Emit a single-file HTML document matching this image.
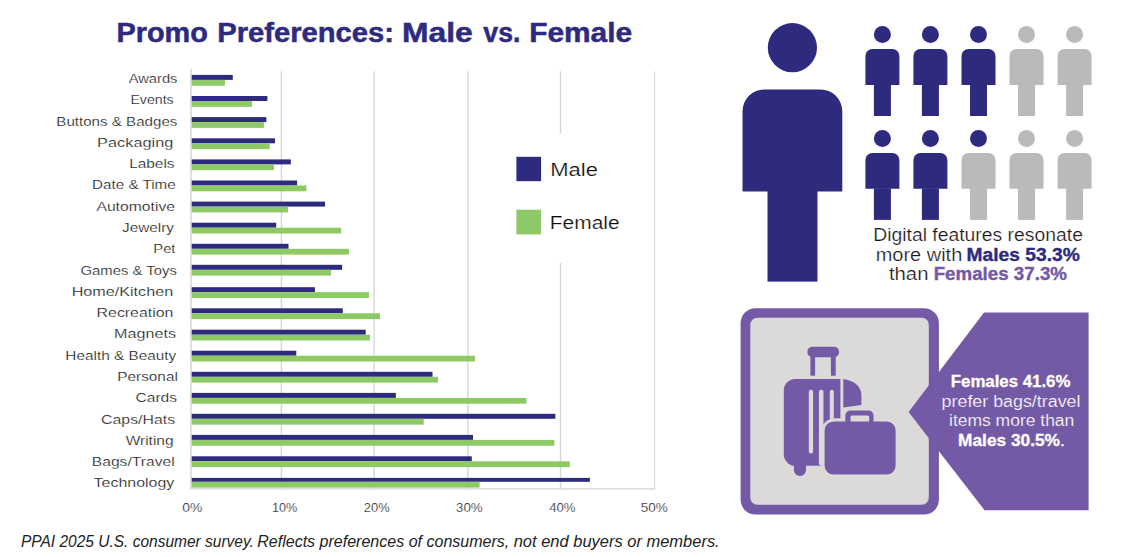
<!DOCTYPE html><html><head><meta charset="utf-8"><title>Promo Preferences</title>
<style>html,body{margin:0;padding:0;background:#fff;}svg{display:block;font-family:"Liberation Sans",sans-serif;}</style></head><body>
<svg width="1141" height="557" viewBox="0 0 1141 557">
<rect width="1141" height="557" fill="#fff"/>
<text x="116.48" y="41.7" font-size="27.5" font-weight="bold" font-style="normal" fill="#2e2b7f" stroke="#2e2b7f" stroke-width="0.5" textLength="91.46" lengthAdjust="spacingAndGlyphs" font-family="Liberation Sans, sans-serif">Promo</text>
<text x="217.34" y="41.7" font-size="27.5" font-weight="bold" font-style="normal" fill="#2e2b7f" stroke="#2e2b7f" stroke-width="0.5" textLength="176.64" lengthAdjust="spacingAndGlyphs" font-family="Liberation Sans, sans-serif">Preferences:</text>
<text x="402.02" y="41.7" font-size="27.5" font-weight="bold" font-style="normal" fill="#2e2b7f" stroke="#2e2b7f" stroke-width="0.5" textLength="70.75" lengthAdjust="spacingAndGlyphs" font-family="Liberation Sans, sans-serif">Male</text>
<text x="483.34" y="41.7" font-size="27.5" font-weight="bold" font-style="normal" fill="#2e2b7f" stroke="#2e2b7f" stroke-width="0.5" textLength="37.11" lengthAdjust="spacingAndGlyphs" font-family="Liberation Sans, sans-serif">vs.</text>
<text x="529.18" y="41.7" font-size="27.5" font-weight="bold" font-style="normal" fill="#2e2b7f" stroke="#2e2b7f" stroke-width="0.5" textLength="103.01" lengthAdjust="spacingAndGlyphs" font-family="Liberation Sans, sans-serif">Female</text>
<rect x="280.7" y="71.3" width="1.4" height="418.4" fill="#d6d6d6"/>
<rect x="373.4" y="71.3" width="1.4" height="418.4" fill="#d6d6d6"/>
<rect x="467.1" y="71.3" width="1.4" height="418.4" fill="#d6d6d6"/>
<rect x="559.8" y="71.3" width="1.4" height="418.4" fill="#d6d6d6"/>
<rect x="653.8" y="71.3" width="1.4" height="418.4" fill="#dedede"/>
<rect x="500" y="133.5" width="140" height="129.3" fill="#fff"/>
<rect x="190.2" y="68.8" width="1.5" height="420.9" fill="#d6d6d6"/>
<rect x="190.2" y="488.0" width="465" height="1.7" fill="#dedede"/>
<rect x="191.7" y="74.9" width="41.1" height="5.0" fill="#2e2b7f"/>
<rect x="191.7" y="79.9" width="33.3" height="5.8" fill="#8dc964"/>
<text x="128.69" y="82.9" font-size="12.6" font-weight="normal" font-style="normal" fill="#111" stroke="#fff" stroke-width="0.22" textLength="48.76" lengthAdjust="spacingAndGlyphs" font-family="Liberation Sans, sans-serif">Awards</text>
<rect x="191.7" y="96.0" width="75.7" height="5.0" fill="#2e2b7f"/>
<rect x="191.7" y="101.0" width="60.2" height="5.8" fill="#8dc964"/>
<text x="130.45" y="104.2" font-size="12.6" font-weight="normal" font-style="normal" fill="#111" stroke="#fff" stroke-width="0.22" textLength="43.26" lengthAdjust="spacingAndGlyphs" font-family="Liberation Sans, sans-serif">Events</text>
<rect x="191.7" y="117.1" width="74.7" height="5.0" fill="#2e2b7f"/>
<rect x="191.7" y="122.1" width="72.2" height="5.8" fill="#8dc964"/>
<text x="56.30" y="125.5" font-size="12.6" font-weight="normal" font-style="normal" fill="#111" stroke="#fff" stroke-width="0.22" textLength="121.13" lengthAdjust="spacingAndGlyphs" font-family="Liberation Sans, sans-serif">Buttons &amp; Badges</text>
<rect x="191.7" y="138.3" width="83.3" height="5.0" fill="#2e2b7f"/>
<rect x="191.7" y="143.3" width="78.0" height="5.8" fill="#8dc964"/>
<text x="97.10" y="146.8" font-size="12.6" font-weight="normal" font-style="normal" fill="#111" stroke="#fff" stroke-width="0.22" textLength="76.30" lengthAdjust="spacingAndGlyphs" font-family="Liberation Sans, sans-serif">Packaging</text>
<rect x="191.7" y="159.4" width="99.1" height="5.0" fill="#2e2b7f"/>
<rect x="191.7" y="164.4" width="82.3" height="5.8" fill="#8dc964"/>
<text x="129.18" y="168.1" font-size="12.6" font-weight="normal" font-style="normal" fill="#111" stroke="#fff" stroke-width="0.22" textLength="45.41" lengthAdjust="spacingAndGlyphs" font-family="Liberation Sans, sans-serif">Labels</text>
<rect x="191.7" y="180.5" width="105.4" height="5.0" fill="#2e2b7f"/>
<rect x="191.7" y="185.5" width="114.7" height="5.8" fill="#8dc964"/>
<text x="92.08" y="189.3" font-size="12.6" font-weight="normal" font-style="normal" fill="#111" stroke="#fff" stroke-width="0.22" textLength="83.60" lengthAdjust="spacingAndGlyphs" font-family="Liberation Sans, sans-serif">Date &amp; Time</text>
<rect x="191.7" y="201.6" width="133.3" height="5.0" fill="#2e2b7f"/>
<rect x="191.7" y="206.6" width="96.3" height="5.8" fill="#8dc964"/>
<text x="96.42" y="210.6" font-size="12.6" font-weight="normal" font-style="normal" fill="#111" stroke="#fff" stroke-width="0.22" textLength="78.61" lengthAdjust="spacingAndGlyphs" font-family="Liberation Sans, sans-serif">Automotive</text>
<rect x="191.7" y="222.7" width="84.5" height="5.0" fill="#2e2b7f"/>
<rect x="191.7" y="227.7" width="149.4" height="5.8" fill="#8dc964"/>
<text x="122.10" y="231.9" font-size="12.6" font-weight="normal" font-style="normal" fill="#111" stroke="#fff" stroke-width="0.22" textLength="51.92" lengthAdjust="spacingAndGlyphs" font-family="Liberation Sans, sans-serif">Jewelry</text>
<rect x="191.7" y="243.8" width="96.8" height="5.0" fill="#2e2b7f"/>
<rect x="191.7" y="248.8" width="157.2" height="5.8" fill="#8dc964"/>
<text x="153.32" y="253.2" font-size="12.6" font-weight="normal" font-style="normal" fill="#111" stroke="#fff" stroke-width="0.22" textLength="22.16" lengthAdjust="spacingAndGlyphs" font-family="Liberation Sans, sans-serif">Pet</text>
<rect x="191.7" y="264.8" width="150.4" height="5.0" fill="#2e2b7f"/>
<rect x="191.7" y="269.8" width="139.3" height="5.8" fill="#8dc964"/>
<text x="80.47" y="274.5" font-size="12.6" font-weight="normal" font-style="normal" fill="#111" stroke="#fff" stroke-width="0.22" textLength="96.35" lengthAdjust="spacingAndGlyphs" font-family="Liberation Sans, sans-serif">Games &amp; Toys</text>
<rect x="191.7" y="287.2" width="123.2" height="5.0" fill="#2e2b7f"/>
<rect x="191.7" y="292.2" width="177.3" height="5.8" fill="#8dc964"/>
<text x="71.66" y="295.8" font-size="12.6" font-weight="normal" font-style="normal" fill="#111" stroke="#fff" stroke-width="0.22" textLength="101.47" lengthAdjust="spacingAndGlyphs" font-family="Liberation Sans, sans-serif">Home/Kitchen</text>
<rect x="191.7" y="308.3" width="151.1" height="5.0" fill="#2e2b7f"/>
<rect x="191.7" y="313.3" width="188.3" height="5.8" fill="#8dc964"/>
<text x="96.61" y="317.1" font-size="12.6" font-weight="normal" font-style="normal" fill="#111" stroke="#fff" stroke-width="0.22" textLength="76.73" lengthAdjust="spacingAndGlyphs" font-family="Liberation Sans, sans-serif">Recreation</text>
<rect x="191.7" y="329.7" width="174.0" height="5.0" fill="#2e2b7f"/>
<rect x="191.7" y="334.7" width="178.3" height="5.8" fill="#8dc964"/>
<text x="114.13" y="338.4" font-size="12.6" font-weight="normal" font-style="normal" fill="#111" stroke="#fff" stroke-width="0.22" textLength="61.86" lengthAdjust="spacingAndGlyphs" font-family="Liberation Sans, sans-serif">Magnets</text>
<rect x="191.7" y="350.7" width="104.6" height="5.0" fill="#2e2b7f"/>
<rect x="191.7" y="355.7" width="283.3" height="5.8" fill="#8dc964"/>
<text x="65.39" y="359.7" font-size="12.6" font-weight="normal" font-style="normal" fill="#111" stroke="#fff" stroke-width="0.22" textLength="110.89" lengthAdjust="spacingAndGlyphs" font-family="Liberation Sans, sans-serif">Health &amp; Beauty</text>
<rect x="191.7" y="371.8" width="240.8" height="5.0" fill="#2e2b7f"/>
<rect x="191.7" y="376.8" width="246.3" height="5.8" fill="#8dc964"/>
<text x="117.35" y="381.0" font-size="12.6" font-weight="normal" font-style="normal" fill="#111" stroke="#fff" stroke-width="0.22" textLength="60.48" lengthAdjust="spacingAndGlyphs" font-family="Liberation Sans, sans-serif">Personal</text>
<rect x="191.7" y="392.9" width="204.2" height="5.0" fill="#2e2b7f"/>
<rect x="191.7" y="397.9" width="334.7" height="5.8" fill="#8dc964"/>
<text x="135.48" y="402.2" font-size="12.6" font-weight="normal" font-style="normal" fill="#111" stroke="#fff" stroke-width="0.22" textLength="41.62" lengthAdjust="spacingAndGlyphs" font-family="Liberation Sans, sans-serif">Cards</text>
<rect x="191.7" y="413.8" width="363.7" height="5.0" fill="#2e2b7f"/>
<rect x="191.7" y="418.8" width="232.0" height="5.8" fill="#8dc964"/>
<text x="101.11" y="423.5" font-size="12.6" font-weight="normal" font-style="normal" fill="#111" stroke="#fff" stroke-width="0.22" textLength="74.00" lengthAdjust="spacingAndGlyphs" font-family="Liberation Sans, sans-serif">Caps/Hats</text>
<rect x="191.7" y="434.9" width="281.3" height="5.0" fill="#2e2b7f"/>
<rect x="191.7" y="439.9" width="362.6" height="5.8" fill="#8dc964"/>
<text x="125.65" y="444.8" font-size="12.6" font-weight="normal" font-style="normal" fill="#111" stroke="#fff" stroke-width="0.22" textLength="47.94" lengthAdjust="spacingAndGlyphs" font-family="Liberation Sans, sans-serif">Writing</text>
<rect x="191.7" y="456.3" width="280.1" height="5.0" fill="#2e2b7f"/>
<rect x="191.7" y="461.3" width="378.1" height="5.8" fill="#8dc964"/>
<text x="91.81" y="466.1" font-size="12.6" font-weight="normal" font-style="normal" fill="#111" stroke="#fff" stroke-width="0.22" textLength="82.85" lengthAdjust="spacingAndGlyphs" font-family="Liberation Sans, sans-serif">Bags/Travel</text>
<rect x="191.7" y="477.9" width="398.2" height="3.9" fill="#2e2b7f"/>
<rect x="191.7" y="481.8" width="287.9" height="5.8" fill="#8dc964"/>
<text x="93.62" y="487.4" font-size="12.6" font-weight="normal" font-style="normal" fill="#111" stroke="#fff" stroke-width="0.22" textLength="80.64" lengthAdjust="spacingAndGlyphs" font-family="Liberation Sans, sans-serif">Technology</text>
<text x="182.37" y="511.9" font-size="13.5" font-weight="normal" font-style="normal" fill="#222" stroke="#fff" stroke-width="0.22" textLength="20.00" lengthAdjust="spacingAndGlyphs" font-family="Liberation Sans, sans-serif">0%</text>
<text x="271.93" y="511.9" font-size="13.5" font-weight="normal" font-style="normal" fill="#222" stroke="#fff" stroke-width="0.22" textLength="25.31" lengthAdjust="spacingAndGlyphs" font-family="Liberation Sans, sans-serif">10%</text>
<text x="363.86" y="511.9" font-size="13.5" font-weight="normal" font-style="normal" fill="#222" stroke="#fff" stroke-width="0.22" textLength="25.83" lengthAdjust="spacingAndGlyphs" font-family="Liberation Sans, sans-serif">20%</text>
<text x="456.07" y="511.9" font-size="13.5" font-weight="normal" font-style="normal" fill="#222" stroke="#fff" stroke-width="0.22" textLength="26.57" lengthAdjust="spacingAndGlyphs" font-family="Liberation Sans, sans-serif">30%</text>
<text x="549.15" y="511.9" font-size="13.5" font-weight="normal" font-style="normal" fill="#222" stroke="#fff" stroke-width="0.22" textLength="26.34" lengthAdjust="spacingAndGlyphs" font-family="Liberation Sans, sans-serif">40%</text>
<text x="640.73" y="511.9" font-size="13.5" font-weight="normal" font-style="normal" fill="#222" stroke="#fff" stroke-width="0.22" textLength="27.01" lengthAdjust="spacingAndGlyphs" font-family="Liberation Sans, sans-serif">50%</text>
<rect x="516.4" y="156.8" width="24.7" height="24.4" fill="#2e2b7f"/>
<rect x="516.4" y="209.7" width="24.7" height="24.7" fill="#8dc964"/>
<text x="550.21" y="176.4" font-size="17.6" font-weight="normal" font-style="normal" fill="#0a0a0a" stroke="#fff" stroke-width="0.22" textLength="47.71" lengthAdjust="spacingAndGlyphs" font-family="Liberation Sans, sans-serif">Male</text>
<text x="549.83" y="229.4" font-size="17.6" font-weight="normal" font-style="normal" fill="#0a0a0a" stroke="#fff" stroke-width="0.22" textLength="69.83" lengthAdjust="spacingAndGlyphs" font-family="Liberation Sans, sans-serif">Female</text>
<text x="20.91" y="546.9" font-size="16.5" font-weight="normal" font-style="italic" fill="#222" textLength="232.98" lengthAdjust="spacingAndGlyphs" font-family="Liberation Sans, sans-serif">PPAI 2025 U.S. consumer survey.</text>
<text x="257.25" y="546.9" font-size="16.5" font-weight="normal" font-style="italic" fill="#222" textLength="252.05" lengthAdjust="spacingAndGlyphs" font-family="Liberation Sans, sans-serif">Reflects preferences of consumers,</text>
<text x="513.69" y="546.9" font-size="16.5" font-weight="normal" font-style="italic" fill="#222" textLength="206.02" lengthAdjust="spacingAndGlyphs" font-family="Liberation Sans, sans-serif">not end buyers or members.</text>
<circle cx="792.4" cy="47.7" r="24.6" fill="#2e2b7f"/>
<path d="M742.5 191.5 V111.4 a22 22 0 0 1 22 -22 H820.3 a22 22 0 0 1 22 22 V191.5 Z" fill="#2e2b7f"/>
<rect x="767.5" y="191" width="50" height="90.6" fill="#2e2b7f"/>
<circle cx="882.4" cy="34.5" r="8.5" fill="#2e2b7f"/>
<path d="M865.4 84.9 V56.0 a7 7 0 0 1 7 -7 H892.4 a7 7 0 0 1 7 7 V84.9 Z" fill="#2e2b7f"/>
<rect x="873.9" y="84.4" width="17" height="31.6" fill="#2e2b7f"/>
<circle cx="930.4" cy="34.5" r="8.5" fill="#2e2b7f"/>
<path d="M913.4 84.9 V56.0 a7 7 0 0 1 7 -7 H940.4 a7 7 0 0 1 7 7 V84.9 Z" fill="#2e2b7f"/>
<rect x="921.9" y="84.4" width="17" height="31.6" fill="#2e2b7f"/>
<circle cx="978.5" cy="34.5" r="8.5" fill="#2e2b7f"/>
<path d="M961.5 84.9 V56.0 a7 7 0 0 1 7 -7 H988.5 a7 7 0 0 1 7 7 V84.9 Z" fill="#2e2b7f"/>
<rect x="970.0" y="84.4" width="17" height="31.6" fill="#2e2b7f"/>
<circle cx="1026.5" cy="34.5" r="8.5" fill="#bababa"/>
<path d="M1009.5 84.9 V56.0 a7 7 0 0 1 7 -7 H1036.5 a7 7 0 0 1 7 7 V84.9 Z" fill="#bababa"/>
<rect x="1018.0" y="84.4" width="17" height="31.6" fill="#bababa"/>
<circle cx="1074.6" cy="34.5" r="8.5" fill="#bababa"/>
<path d="M1057.6 84.9 V56.0 a7 7 0 0 1 7 -7 H1084.6 a7 7 0 0 1 7 7 V84.9 Z" fill="#bababa"/>
<rect x="1066.1" y="84.4" width="17" height="31.6" fill="#bababa"/>
<circle cx="882.4" cy="138.4" r="8.5" fill="#2e2b7f"/>
<path d="M865.4 188.8 V159.9 a7 7 0 0 1 7 -7 H892.4 a7 7 0 0 1 7 7 V188.8 Z" fill="#2e2b7f"/>
<rect x="873.9" y="188.3" width="17" height="31.6" fill="#2e2b7f"/>
<circle cx="930.4" cy="138.4" r="8.5" fill="#2e2b7f"/>
<path d="M913.4 188.8 V159.9 a7 7 0 0 1 7 -7 H940.4 a7 7 0 0 1 7 7 V188.8 Z" fill="#2e2b7f"/>
<rect x="921.9" y="188.3" width="17" height="31.6" fill="#2e2b7f"/>
<circle cx="978.5" cy="138.4" r="8.5" fill="#2e2b7f"/>
<path d="M961.5 188.8 V159.9 a7 7 0 0 1 7 -7 H988.5 a7 7 0 0 1 7 7 V188.8 Z" fill="#bababa"/>
<rect x="970.0" y="188.3" width="17" height="31.6" fill="#bababa"/>
<circle cx="1026.5" cy="138.4" r="8.5" fill="#bababa"/>
<path d="M1009.5 188.8 V159.9 a7 7 0 0 1 7 -7 H1036.5 a7 7 0 0 1 7 7 V188.8 Z" fill="#bababa"/>
<rect x="1018.0" y="188.3" width="17" height="31.6" fill="#bababa"/>
<circle cx="1074.6" cy="138.4" r="8.5" fill="#bababa"/>
<path d="M1057.6 188.8 V159.9 a7 7 0 0 1 7 -7 H1084.6 a7 7 0 0 1 7 7 V188.8 Z" fill="#bababa"/>
<rect x="1066.1" y="188.3" width="17" height="31.6" fill="#bababa"/>
<text x="873.18" y="240.7" font-size="17.5" font-weight="normal" font-style="normal" fill="#1b1514" stroke="#fff" stroke-width="0.22" textLength="209.74" lengthAdjust="spacingAndGlyphs" font-family="Liberation Sans, sans-serif">Digital features resonate</text>
<text x="875.67" y="261.1" font-size="17.5" font-weight="normal" font-style="normal" fill="#1b1514" stroke="#fff" stroke-width="0.22" textLength="86.61" lengthAdjust="spacingAndGlyphs" font-family="Liberation Sans, sans-serif">more with</text>
<text x="966.61" y="261.1" font-size="17.5" font-weight="bold" font-style="normal" fill="#2e2b7f" stroke="#2e2b7f" stroke-width="0.35" textLength="113.13" lengthAdjust="spacingAndGlyphs" font-family="Liberation Sans, sans-serif">Males 53.3%</text>
<text x="888.93" y="280.1" font-size="17.5" font-weight="normal" font-style="normal" fill="#1b1514" stroke="#fff" stroke-width="0.22" textLength="39.57" lengthAdjust="spacingAndGlyphs" font-family="Liberation Sans, sans-serif">than</text>
<text x="933.67" y="280.1" font-size="17.5" font-weight="bold" font-style="normal" fill="#7459a6" stroke="#7459a6" stroke-width="0.35" textLength="133.31" lengthAdjust="spacingAndGlyphs" font-family="Liberation Sans, sans-serif">Females 37.3%</text>
<rect x="740.6" y="308.2" width="198.3" height="206.4" rx="15" ry="15" fill="#7459a6"/>
<rect x="750.3" y="317.8" width="178.5" height="187" rx="7" ry="7" fill="#dbdad9"/>
<path d="M984 312.6 H1088.6 V510.3 H984.6 L908.6 412 Z" fill="#7459a6"/>
<text x="950.77" y="387.2" font-size="16" font-weight="bold" font-style="normal" fill="#fff" stroke="#fff" stroke-width="0.3" textLength="119.63" lengthAdjust="spacingAndGlyphs" font-family="Liberation Sans, sans-serif">Females 41.6%</text>
<text x="941.63" y="407.4" font-size="16" font-weight="normal" font-style="normal" fill="#fff" stroke="#7459a6" stroke-width="0.22" textLength="138.83" lengthAdjust="spacingAndGlyphs" font-family="Liberation Sans, sans-serif">prefer bags/travel</text>
<text x="949.00" y="426.3" font-size="16" font-weight="normal" font-style="normal" fill="#fff" stroke="#7459a6" stroke-width="0.22" textLength="125.29" lengthAdjust="spacingAndGlyphs" font-family="Liberation Sans, sans-serif">items more than</text>
<text x="958.11" y="446.0" font-size="16" font-weight="bold" font-style="normal" fill="#fff" stroke="#fff" stroke-width="0.3" textLength="106.61" lengthAdjust="spacingAndGlyphs" font-family="Liberation Sans, sans-serif">Males 30.5%<tspan font-weight="normal">.</tspan></text>
<g fill="#7459a6">
<rect x="807.4" y="346.7" width="31.6" height="10.6" rx="5" ry="5"/>
<rect x="810.4" y="352" width="4.7" height="23.7"/>
<rect x="830.9" y="352" width="4.8" height="23.7"/>
<path d="M783.8 390.4 a11.5 11.5 0 0 1 11.5 -11.5 H840.4 V465.8 H795.3 a11.5 11.5 0 0 1 -11.5 -11.5 Z"/>
<path d="M843.3 378.9 C853 380 861.4 386 861.4 395 V405 L843.3 407.6 Z"/>
<path d="M793.9 463 H806 V470 a6 6 0 0 1 -12.1 0 Z"/>
</g>
<g fill="#dbdad9">
<rect x="808.8" y="389.8" width="4.3" height="63.8" rx="2.1"/>
<rect x="818.9" y="389.8" width="4.6" height="76" rx="2.1"/>
<rect x="829.8" y="389.8" width="4" height="30" rx="2"/>
<rect x="821.6" y="418.2" width="77" height="59.4" rx="13" ry="13"/>
<path d="M842.5 422 V414 a6.5 6.5 0 0 1 6.5 -6.5 H870 a6.5 6.5 0 0 1 6.5 6.5 V422 Z"/>
</g>
<g fill="#7459a6">
<rect x="824.6" y="421.4" width="71" height="53.2" rx="9" ry="9"/>
<path fill-rule="evenodd" d="M845.3 423 V415.5 a5 5 0 0 1 5 -5 H868.5 a5 5 0 0 1 5 5 V423 Z M850.5 423 V416.9 a1.5 1.5 0 0 1 1.5 -1.5 H867.7 a1.5 1.5 0 0 1 1.5 1.5 V423 Z"/>
</g>
</svg></body></html>
